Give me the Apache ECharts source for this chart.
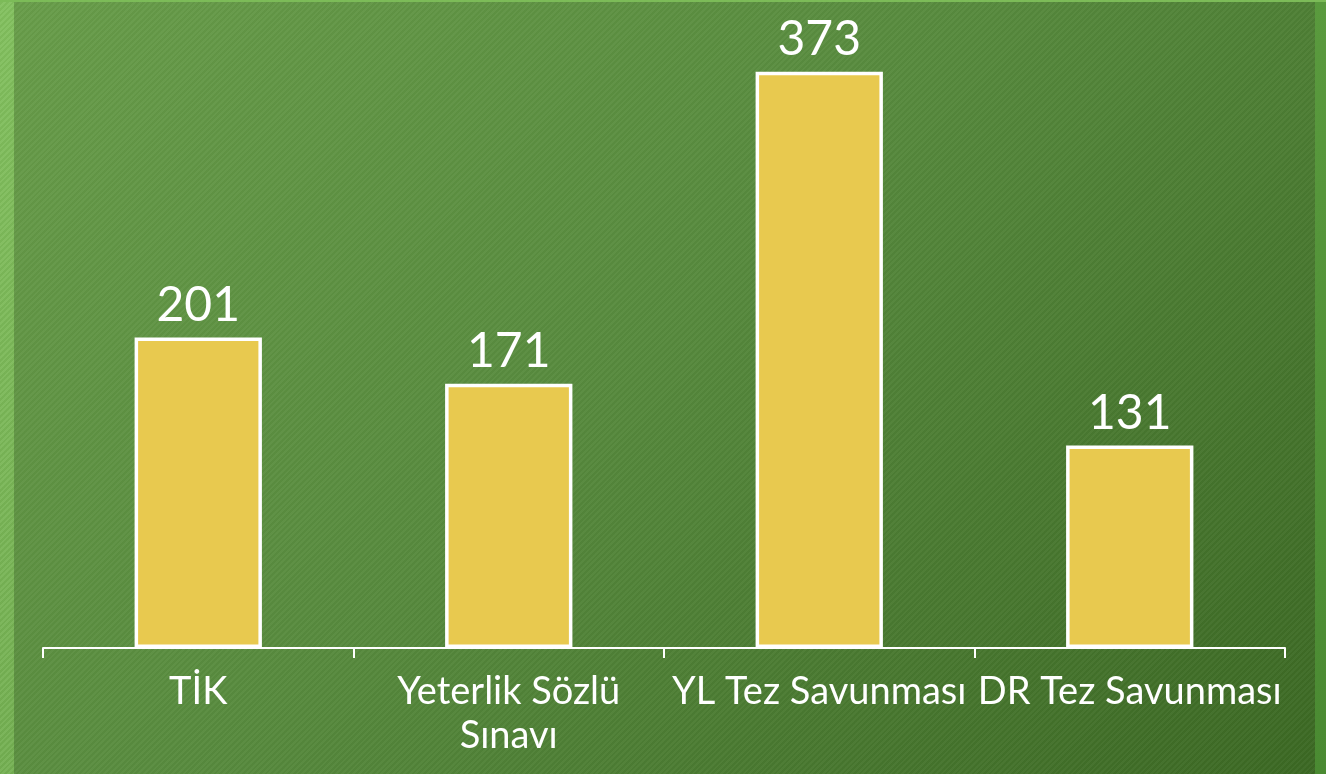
<!DOCTYPE html>
<html>
<head>
<meta charset="utf-8">
<script src="https://cdn.jsdelivr.net/npm/echarts@6/dist/echarts.min.js"></script>
<style>
  html, body {
    margin: 0;
    padding: 0;
    width: 1326px;
    height: 774px;
    overflow: hidden;
  }
  /* yeşil zemin, çapraz çizgili doku */
  .frame {
    position: absolute;
    left: 0;
    top: 0;
    width: 1326px;
    height: 774px;
    background:
      repeating-linear-gradient(135deg, rgba(255, 255, 255, 0.03) 0 2px, rgba(0, 0, 0, 0.025) 2px 4px),
      linear-gradient(135deg, #689d4a 0%, #588b3e 45%, #3b6823 100%);
  }
  .strip-left {
    position: absolute;
    left: 0;
    top: 0;
    width: 14px;
    height: 774px;
    background:
      repeating-linear-gradient(135deg, rgba(255, 255, 255, 0.05) 0 2px, rgba(0, 0, 0, 0.03) 2px 4px),
      linear-gradient(180deg, #82c05e, #74b052);
  }
  .strip-right {
    position: absolute;
    right: 0;
    top: 0;
    width: 11px;
    height: 774px;
    background: linear-gradient(180deg, #5a9a3e, #4a8a32);
  }
  .strip-top {
    position: absolute;
    left: 0;
    top: 0;
    width: 1326px;
    height: 2px;
    background: #7cbb58;
  }
  #chart {
    position: absolute;
    left: 0;
    top: 0;
    width: 1326px;
    height: 774px;
  }
</style>
</head>
<body>
<div class="frame"></div>
<div class="strip-left"></div>
<div class="strip-right"></div>
<div class="strip-top"></div>
<div id="chart"></div>
<script>
// kategoriler
const categories = ['TİK', 'Yeterlik Sözlü\nSınavı', 'YL Tez Savunması', 'DR Tez Savunması']
// değerler
const values = [201, 171, 373, 131]

const chart = echarts.init(document.getElementById('chart'))

const option = {
  backgroundColor: 'transparent',
  animation: false,
  grid: {
    left: 43,
    right: 41,
    top: 30,
    bottom: 126
  },
  xAxis: {
    type: 'category',
    data: categories,
    axisLine: {
      lineStyle: { color: '#ffffff', width: 2 }
    },
    axisTick: {
      show: true,
      length: 10,
      lineStyle: { color: '#ffffff', width: 2 }
    },
    axisLabel: {
      interval: 0,
      color: '#ffffff',
      fontFamily: 'Lato',
      fontSize: 38,
      lineHeight: 44,
      margin: 22
    }
  },
  yAxis: {
    type: 'value',
    min: 0,
    max: 400,
    show: false,
    splitLine: { show: false }
  },
  series: [
    {
      type: 'bar',
      data: values,
      barWidth: '41%',
      itemStyle: {
        color: '#E8C94F',
        borderColor: '#ffffff',
        borderWidth: 3.5
      },
      label: {
        show: true,
        position: 'top',
        distance: 8,
        color: '#ffffff',
        fontFamily: 'Lato',
        fontSize: 48
      }
    }
  ]
}

chart.setOption(option)
</script>
</body>
</html>
